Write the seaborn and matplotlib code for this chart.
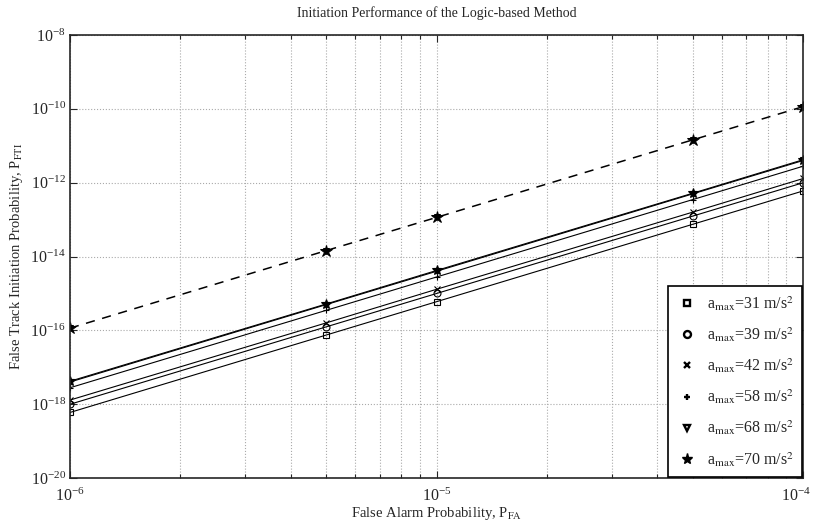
import numpy as np
import pandas as pd
import matplotlib
matplotlib.use('Agg')
import matplotlib.pyplot as plt
import matplotlib.ticker as mticker
import matplotlib.transforms as mtransforms
from matplotlib.lines import Line2D
import seaborn as sns

# data
pfa = [1e-6, 5e-6, 1e-5, 5e-5, 1e-4]
p_31 = [6.0e-19, 7.5e-17, 6.0e-16, 7.5e-14, 6.0e-13]
p_39 = [1.0e-18, 1.25e-16, 1.0e-15, 1.25e-13, 1.0e-12]
p_42 = [1.3e-18, 1.6e-16, 1.3e-15, 1.6e-13, 1.3e-12]
p_58 = [2.8e-18, 3.5e-16, 2.8e-15, 3.5e-13, 2.8e-12]
p_68 = [4.0e-18, 5.0e-16, 4.0e-15, 5.0e-13, 4.0e-12]
p_70 = [4.2e-18, 5.2e-16, 4.2e-15, 5.2e-13, 4.2e-12]
p_ref = [1.15e-16, 1.45e-14, 1.15e-13, 1.45e-11, 1.15e-10]

labels = ['31', '39', '42', '58', '68', '70']
series = [p_31, p_39, p_42, p_58, p_68, p_70]
markers = ['s', 'o', 'x', '+', 'v', '*']

sns.set_style('ticks')
plt.rcParams['font.family'] = ['Liberation Serif', 'DejaVu Serif']
plt.rcParams['mathtext.fontset'] = 'stix'
plt.rcParams['xtick.direction'] = 'in'
plt.rcParams['ytick.direction'] = 'in'

df = pd.DataFrame({'pfa': pfa * len(series),
                   'p': sum(series, []),
                   'amax': sum([[l] * len(pfa) for l in labels], [])})

fig = plt.figure(figsize=(8.13, 5.22), dpi=100)
ax = fig.add_axes([0.086, 0.084, 0.902, 0.849])

for lab, mk in zip(labels, markers):
    sub = df[df['amax'] == lab]
    filled = mk in ('v', '*')
    sns.lineplot(data=sub, x='pfa', y='p', ax=ax, color='black', lw=0.8,
                 marker=mk, markersize=5 if mk != '*' else 7,
                 markerfacecolor='black' if filled else 'none',
                 markeredgecolor='black', markeredgewidth=0.8, legend=False)

# dashed curve
sns.lineplot(x=pfa, y=p_ref, ax=ax, color='black', lw=1.1, linestyle=(0, (6, 5)),
             marker='*', markersize=9, markerfacecolor='black',
             markeredgecolor='black', legend=False)
sns.lineplot(x=pfa, y=p_ref, ax=ax, color='black', lw=0, marker='v', markersize=5,
             markerfacecolor='black', markeredgecolor='black', legend=False)

ax.set_xscale('log')
ax.set_yscale('log')
ax.set_xlim(1e-6, 1e-4)
ax.set_ylim(1e-20, 1e-8)
ax.yaxis.set_major_locator(mticker.LogLocator(base=100.0))
ax.yaxis.set_minor_locator(mticker.NullLocator())
ax.xaxis.set_major_locator(mticker.FixedLocator([1e-6, 1e-5, 1e-4]))
ax.xaxis.set_minor_locator(mticker.LogLocator(base=10.0, subs=np.arange(2, 10)))
ax.xaxis.set_minor_formatter(mticker.NullFormatter())

ax.grid(True, which='major', linestyle=':', color='#aaaaaa', lw=0.8)
ax.grid(True, which='minor', axis='x', linestyle=':', color='#aaaaaa', lw=0.8)
ax.tick_params(which='both', top=True, right=True, labelsize=11.5, width=0.8)
ax.tick_params(axis='x', which='major', pad=7)
ax.tick_params(axis='y', which='major', pad=3)
ax.tick_params(which='major', length=5)
ax.tick_params(which='minor', length=3)
for s in ax.spines.values():
    s.set_linewidth(1.2)

ax.set_title('Initiation Performance of the Logic-based Method', fontsize=10, pad=13)
ax.set_xlabel('False Alarm Probability, P$_{\\rm FA}$', fontsize=10.5, labelpad=0)
ax.set_ylabel('False Track Initiation Probability, P$_{\\rm FTI}$', fontsize=10.5, labelpad=4)

# nudge the right-most x tick label inside the figure
fig.canvas.draw()
last = ax.get_xticklabels()[-1]
last.set_transform(last.get_transform() +
                   mtransforms.ScaledTranslation(-7 / 100, 0, fig.dpi_scale_trans))

handles = []
for lab, mk in zip(labels, markers):
    handles.append(Line2D([], [], linestyle='none', marker=mk, color='black',
                          markersize=5 if mk != '*' else 8,
                          markerfacecolor='black' if mk == '*' else 'none',
                          markeredgewidth=1.7 if mk != '*' else 1.0,
                          label='a$_{\\rm max}$=' + lab + ' m/s$^2$'))
leg = ax.legend(handles=handles, loc='lower right', fontsize=11.5, frameon=True,
                fancybox=False, edgecolor='black', borderaxespad=0.1,
                labelspacing=0.78, handletextpad=0.5, handlelength=1.4,
                borderpad=0.5)
leg.get_frame().set_linewidth(1.2)
leg.get_frame().set_alpha(1)

fig.savefig('out.png', dpi=100)
